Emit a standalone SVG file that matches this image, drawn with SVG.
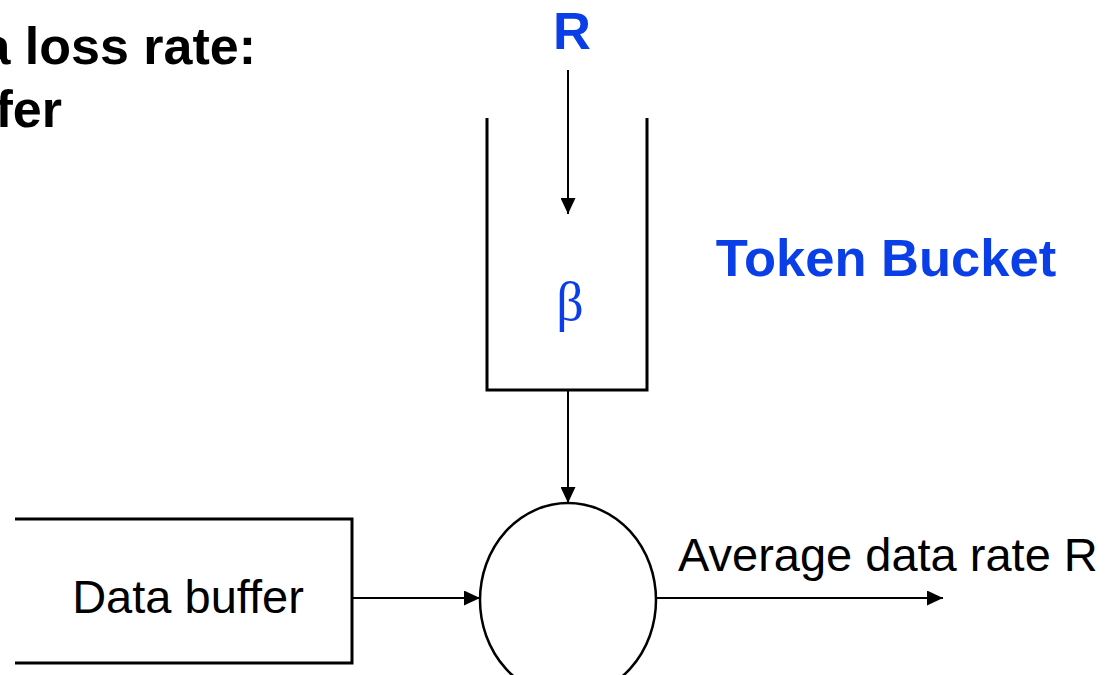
<svg xmlns="http://www.w3.org/2000/svg" width="1109" height="675" viewBox="0 0 1109 675">
  <style>
    .title { font-family: "Liberation Sans", Arial, sans-serif; font-weight: bold; font-size: 52px; fill: #000; }
    .blue { font-family: "Liberation Sans", Arial, sans-serif; font-weight: bold; font-size: 52.5px; fill: #0a3ee6; }
    .label { font-family: "Liberation Sans", Arial, sans-serif; font-size: 47px; fill: #000; }
    .beta { font-family: "Liberation Serif", "Times New Roman", serif; font-size: 54px; fill: #0a3ee6; }
    .wall { fill: none; stroke: #000; stroke-width: 3; }
    .edge { fill: none; stroke: #000; stroke-width: 2; marker-end: url(#arrow); }
  </style>
  <defs>
    <marker id="arrow" viewBox="0 0 16 15" refX="16" refY="7.5" markerWidth="16" markerHeight="15" markerUnits="userSpaceOnUse" orient="auto">
      <path d="M0,0 L16,7.5 L0,15 Z" fill="#000"/>
    </marker>
  </defs>
  <rect width="1109" height="675" fill="#fff"/>

  <!-- heading, running off the left edge -->
  <g id="heading">
    <text class="title" x="256" y="64" text-anchor="end">a loss rate:</text>
    <text class="title" x="62" y="127" text-anchor="end">fer</text>
  </g>

  <!-- token bucket -->
  <g id="token-bucket">
    <text class="blue" x="572" y="49" text-anchor="middle">R</text>
    <path class="wall" d="M487,118 V390 H647 V118"/>
    <text class="beta" x="570" y="320" text-anchor="middle">β</text>
    <text class="blue" x="886" y="276" text-anchor="middle">Token Bucket</text>
  </g>

  <!-- data buffer -->
  <g id="data-buffer">
    <path class="wall" d="M15,519 H352 V663 H15"/>
    <text class="label" x="188" y="613" text-anchor="middle">Data buffer</text>
  </g>

  <!-- regulator -->
  <g id="regulator">
    <ellipse cx="568" cy="600" rx="88" ry="97" fill="none" stroke="#000" stroke-width="2.5"/>
  </g>

  <!-- output label -->
  <g id="output">
    <text class="label" x="678" y="571">Average data rate R</text>
  </g>

  <g id="connectors">
    <line class="edge" x1="568" y1="70" x2="568" y2="214"/>
    <line class="edge" x1="568" y1="390" x2="568" y2="503"/>
    <line class="edge" x1="352" y1="598" x2="480" y2="598"/>
    <line class="edge" x1="656" y1="598" x2="943" y2="598"/>
  </g>
</svg>
